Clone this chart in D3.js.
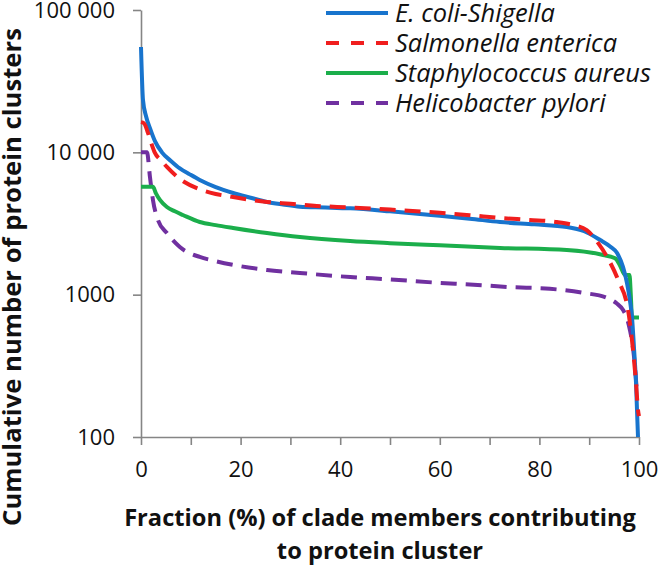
<!DOCTYPE html>
<html>
<head>
<meta charset="utf-8">
<script src="https://cdn.jsdelivr.net/npm/d3@7"></script>
<style>
  html, body { margin: 0; padding: 0; background: #fff; }
  svg { display: block; }
  text { font-family: "Open Sans", Lato, sans-serif; fill: #111; }
</style>
</head>
<body>
<svg id="chart" width="661" height="567"></svg>
<script>
// ---- data ----
const seriesNames = ["E. coli-Shigella", "Salmonella enterica", "Staphylococcus aureus", "Helicobacter pylori"];
const seriesColors = ["#1874CD", "#F01E1E", "#1BAE4B", "#7030A0"];
const seriesDashed = [false, true, false, true];

const ecoliX = [0, 0.4, 1.0, 1.8, 2.8, 4.2, 6.0, 7.8, 9.8, 11.8, 15, 18.5, 22, 25.3, 28.5, 31.9, 37, 42, 50, 60, 66, 72.1, 79, 85.5, 89, 92.2, 94.2, 95.6, 96.8, 97.6, 98.2, 98.6, 99.0, 99.4, 99.8];
const ecoliY = [55000, 23300, 18000, 14800, 12000, 10000, 8700, 7700, 7000, 6400, 5700, 5180, 4800, 4480, 4300, 4150, 4100, 4040, 3850, 3580, 3420, 3240, 3120, 2990, 2790, 2420, 2180, 1960, 1560, 1200, 900, 690, 420, 240, 100];

const salmX = [0, 0.6, 1.4, 2.1, 2.8, 4.0, 5.2, 7.8, 11.8, 15, 18.5, 25.3, 30, 35.3, 42, 50, 60, 66, 72.1, 78, 83.5, 86.5, 89.5, 91.8, 93.6, 95.8, 97.8, 98.8, 99.4, 99.8, 100];
const salmY = [16300, 16000, 13700, 11500, 9900, 8800, 7890, 6500, 5500, 5100, 4850, 4480, 4350, 4200, 4100, 3960, 3760, 3620, 3460, 3350, 3240, 3100, 2840, 2300, 1840, 1270, 780, 408, 240, 155, 140];

const staphX = [0, 1.2, 2.4, 3.0, 3.8, 5.2, 6.8, 8.4, 11.8, 15, 18.5, 25.3, 31.9, 42, 50, 60, 72.1, 85.5, 92.8, 95.2, 96.2, 97.2, 98.1, 98.35, 98.6, 99.3, 100];
const staphY = [5720, 5720, 5720, 5150, 4630, 4130, 3850, 3630, 3240, 3080, 2940, 2710, 2540, 2380, 2300, 2220, 2130, 2060, 1900, 1800, 1600, 1375, 1375, 1000, 690, 690, 690];

const heliX = [0, 0.6, 1.2, 1.8, 2.4, 3.4, 5.2, 7.8, 11.8, 15, 18.5, 25.3, 31.9, 42, 50, 60, 66, 74.1, 82.1, 88.8, 93.6, 95.5, 96.8, 97.6, 98.2, 98.8, 99.2, 99.6];
const heliY = [10000, 10000, 10000, 6710, 4630, 3350, 2710, 2160, 1840, 1720, 1620, 1490, 1420, 1330, 1280, 1210, 1180, 1130, 1100, 1030, 950, 870, 780, 680, 560, 420, 310, 200];

const xTickValues = [0, 10, 20, 30, 40, 50, 60, 70, 80, 90, 100];
const xTickLabels = ["0", "", "20", "", "40", "", "60", "", "80", "", "100"];
const yTickValues = [100, 1000, 10000, 100000];
const yTickLabels = ["100", "1000", "10 000", "100 000"];

const xTitleLines = ["Fraction (%) of clade members contributing", "to protein cluster"];
const yTitle = "Cumulative number of protein clusters";

// ---- helpers ----
// choose a font size so that a sample text reaches the target width
function fitSize(sample, targetWidth, attrs) {
  const t = d3.select("#chart").append("text").attr("font-size", 20).text(sample);
  Object.entries(attrs || {}).forEach(([k, v]) => t.attr(k, v));
  const w = t.node().getComputedTextLength();
  t.remove();
  return 20 * targetWidth / w;
}

// ---- chart ----
const svg = d3.select("#chart");
const plotLeft = 141, plotRight = 639, plotTop = 10, plotBottom = 437;

const x = d3.scaleLinear().domain([0, 100]).range([plotLeft, plotRight]);
const y = d3.scaleLog().domain([100, 100000]).range([plotBottom, plotTop]);

const axisColor = "#858585";
const tickFont = Math.min(22, fitSize("100 000", 87));

// x axis
const gx = svg.append("g").attr("transform", `translate(0,${plotBottom})`)
  .call(d3.axisBottom(x).tickValues(xTickValues)
    .tickFormat((d, i) => xTickLabels[i]).tickSize(8).tickSizeOuter(0).tickPadding(16));
gx.select(".domain").attr("stroke", axisColor).attr("stroke-width", 1.6);
gx.selectAll(".tick line").attr("stroke", axisColor).attr("stroke-width", 1.6);
gx.selectAll(".tick text").attr("font-size", tickFont).attr("fill", "#111")
  .style("font-family", "'Open Sans', sans-serif");

// y axis
const gy = svg.append("g").attr("transform", `translate(${plotLeft},0)`)
  .call(d3.axisLeft(y).tickValues(yTickValues)
    .tickFormat((d, i) => yTickLabels[i]).tickSize(8).tickSizeOuter(0).tickPadding(18));
gy.select(".domain").attr("stroke", axisColor).attr("stroke-width", 1.6);
gy.selectAll(".tick text").attr("font-size", tickFont).attr("fill", "#111")
  .style("font-family", "'Open Sans', sans-serif");
gy.selectAll(".tick line").attr("stroke", axisColor).attr("stroke-width", 1.6);

// lines
const seriesData = [
  ecoliX.map((v, i) => [v, ecoliY[i]]),
  salmX.map((v, i) => [v, salmY[i]]),
  staphX.map((v, i) => [v, staphY[i]]),
  heliX.map((v, i) => [v, heliY[i]])
];
const line = d3.line().x(d => x(d[0])).y(d => y(d[1])).curve(d3.curveMonotoneX);

const drawOrder = [3, 2, 0, 1];
drawOrder.forEach(k => {
  svg.append("path")
    .datum(seriesData[k])
    .attr("fill", "none")
    .attr("stroke", seriesColors[k])
    .attr("stroke-width", 4)
    .attr("stroke-linejoin", "round")
    .attr("stroke-dasharray", seriesDashed[k] ? "16,9" : null)
    .attr("d", line);
});

// legend
const legendFont = fitSize("Staphylococcus aureus", 256, {"font-style": "italic"});
const legend = svg.append("g");
seriesNames.forEach((name, i) => {
  const yy = 13 + i * 30;
  legend.append("line")
    .attr("x1", 326).attr("x2", 388).attr("y1", yy).attr("y2", yy)
    .attr("stroke", seriesColors[i]).attr("stroke-width", 4)
    .attr("stroke-dasharray", seriesDashed[i] ? "13,12" : null);
  legend.append("text")
    .attr("x", 395).attr("y", yy).attr("dy", "0.35em")
    .attr("font-size", legendFont).attr("font-style", "italic")
    .text(name);
});

// axis titles
const xTitleFont = fitSize(xTitleLines[0], 512, {"font-weight": "bold"});
const xt = svg.append("text")
  .attr("text-anchor", "middle")
  .attr("font-size", xTitleFont).attr("font-weight", "bold");
xTitleLines.forEach((t, i) => {
  xt.append("tspan").attr("x", 380).attr("y", 526 + i * 33).text(t);
});

const yTitleFont = fitSize(yTitle, 498, {"font-weight": "bold"});
svg.append("text")
  .attr("transform", "translate(21,277) rotate(-90)")
  .attr("text-anchor", "middle")
  .attr("font-size", yTitleFont).attr("font-weight", "bold")
  .text(yTitle);
</script>
</body>
</html>
